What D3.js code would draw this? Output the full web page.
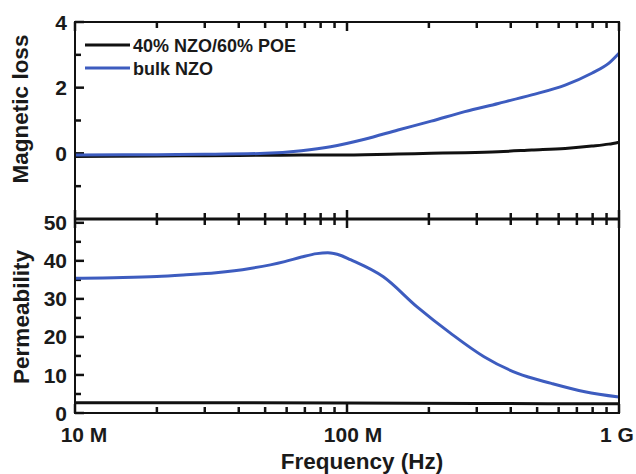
<!DOCTYPE html>
<html>
<head>
<meta charset="utf-8">
<script src="https://cdn.jsdelivr.net/npm/d3@7"></script>
<style>
body { margin: 0; background: #ffffff; }
text { font-family: "Liberation Sans", Arial, sans-serif; font-weight: bold; fill: #1a1a1a; }
</style>
</head>
<body>
<div id="canvas"></div>
<script>
// ----------------------------------------------------------
// DATA -----------------------------------------------------
// ----------------------------------------------------------
// frequency (Hz) for the magnetic loss curves
var freq_loss = [1e7, 2e7, 3e7, 5e7, 6.8e7, 8.7e7, 1.16e8, 1.54e8, 2.04e8, 2.71e8, 3.6e8, 4.78e8, 6.34e8, 7.94e8, 9.16e8, 1e9];
var loss_bulk = [-0.05, -0.04, -0.03, 0.0, 0.08, 0.20, 0.43, 0.71, 0.98, 1.27, 1.52, 1.78, 2.08, 2.44, 2.74, 3.05];
var loss_comp = [-0.1, -0.08, -0.07, -0.06, -0.05, -0.05, -0.04, -0.02, 0.0, 0.02, 0.05, 0.1, 0.15, 0.22, 0.28, 0.34];
// frequency (Hz) for the permeability curves
var freq_perm = [1e7, 1.5e7, 2e7, 2.5e7, 3.3e7, 4.4e7, 5.9e7, 6.8e7, 7.75e7, 8.5e7, 9.5e7, 1.03e8, 1.36e8, 1.81e8, 2.4e8, 3.19e8, 4.24e8, 5.64e8, 7.49e8, 1e9];
var perm_bulk = [35.4, 35.6, 35.9, 36.3, 36.9, 38.0, 39.8, 41.0, 41.9, 42.1, 41.4, 40.3, 35.8, 27.9, 21.0, 14.8, 10.4, 7.8, 5.6, 4.2];
var freq_perm_comp = [1e7, 3e7, 1e8, 3e8, 1e9];
var perm_comp = [2.7, 2.7, 2.6, 2.5, 2.4];
// series names
var series_names = ["40% NZO/60% POE", "bulk NZO"];
// ticks
var x_major_ticks = [1e7, 1e8, 1e9];
var x_tick_labels = ["10 M", "100 M", "1 G"];
var loss_major_ticks = [0, 2, 4];
var loss_minor_ticks = [-1, 1, 3];
var perm_major_ticks = [0, 10, 20, 30, 40, 50];
var perm_minor_ticks = [5, 15, 25, 35, 45];

// ----------------------------------------------------------
// SETTINGS -------------------------------------------------
// ----------------------------------------------------------
var width = 636, height = 474;
var plot_left = 75, plot_right = 619;
var top_y0 = 22, mid_y = 219, bot_y1 = 413;
var color_bulk = "#3d5cbf";
var color_comp = "#111111";
var tick_major = 9, tick_minor = 6;

var svg = d3.select("#canvas").append("svg")
  .attr("width", width)
  .attr("height", height)
  .style("background-color", "#ffffff");

// ----------------------------------------------------------
// SCALES ---------------------------------------------------
// ----------------------------------------------------------
var xScale = d3.scaleLog()
  .domain([1e7, 1e9])
  .range([plot_left, plot_right]);
var yLoss = d3.scaleLinear()
  .domain([-2, 4])
  .range([mid_y, top_y0]);
var yPerm = d3.scaleLinear()
  .domain([0, 51])
  .range([bot_y1, mid_y]);

// minor ticks on the log axis: 2..9 of every decade
var x_minor_ticks = [];
[1e7, 1e8].forEach(function(dec) {
  for (var k = 2; k < 10; k++) x_minor_ticks.push(dec * k);
});

// ----------------------------------------------------------
// TICKS ----------------------------------------------------
// ----------------------------------------------------------
var tick_group = svg.append("g").attr("class", "ticks");

function addTick(x1, y1, x2, y2) {
  tick_group.append("line")
    .attr("x1", x1).attr("y1", y1)
    .attr("x2", x2).attr("y2", y2)
    .style("stroke", "#111111")
    .style("stroke-width", "2.5px");
}

// horizontal edges: y position and inward direction (+1 down, -1 up)
var x_rows = [[top_y0, 1], [mid_y, -1], [mid_y, 1], [bot_y1, -1]];
x_rows.forEach(function(r) {
  x_major_ticks.forEach(function(d) {
    addTick(xScale(d), r[0], xScale(d), r[0] + r[1] * tick_major);
  });
  x_minor_ticks.forEach(function(d) {
    addTick(xScale(d), r[0], xScale(d), r[0] + r[1] * tick_minor);
  });
});

// left edge ticks
function leftTicks(scale, majors, minors) {
  majors.forEach(function(d) {
    addTick(plot_left, scale(d), plot_left + tick_major, scale(d));
  });
  minors.forEach(function(d) {
    addTick(plot_left, scale(d), plot_left + tick_minor, scale(d));
  });
}
leftTicks(yLoss, loss_major_ticks, loss_minor_ticks);
leftTicks(yPerm, perm_major_ticks, perm_minor_ticks);

// ----------------------------------------------------------
// TICK LABELS ----------------------------------------------
// ----------------------------------------------------------
var label_group = svg.append("g").style("font-size", "21px");

label_group.selectAll(null)
  .data(loss_major_ticks)
  .enter().append("text")
  .attr("x", plot_left - 8)
  .attr("y", function(d) { return yLoss(d); })
  .attr("dy", "0.36em")
  .attr("text-anchor", "end")
  .text(function(d) { return d; });

label_group.selectAll(null)
  .data(perm_major_ticks)
  .enter().append("text")
  .attr("x", plot_left - 8)
  .attr("y", function(d) { return yPerm(d); })
  .attr("dy", "0.36em")
  .attr("text-anchor", "end")
  .text(function(d) { return d; });

var x_label_shift = [9, 6, -2];
label_group.selectAll(null)
  .data(x_major_ticks)
  .enter().append("text")
  .attr("x", function(d, i) { return xScale(d) + x_label_shift[i]; })
  .attr("y", 442)
  .attr("text-anchor", "middle")
  .text(function(d, i) { return x_tick_labels[i]; });

// ----------------------------------------------------------
// LINES ----------------------------------------------------
// ----------------------------------------------------------
function drawLine(freqs, vals, yScale, color) {
  var pts = freqs.map(function(f, i) { return [f, vals[i]]; });
  var line = d3.line()
    .x(function(d) { return xScale(d[0]); })
    .y(function(d) { return yScale(d[1]); })
    .curve(d3.curveMonotoneX);
  svg.append("path")
    .datum(pts)
    .attr("d", line)
    .attr("fill", "none")
    .attr("stroke", color)
    .attr("stroke-width", 3)
    .attr("stroke-linejoin", "round");
}
drawLine(freq_loss, loss_comp, yLoss, color_comp);
drawLine(freq_loss, loss_bulk, yLoss, color_bulk);
drawLine(freq_perm_comp, perm_comp, yPerm, color_comp);
drawLine(freq_perm, perm_bulk, yPerm, color_bulk);

// ----------------------------------------------------------
// FRAME ----------------------------------------------------
// ----------------------------------------------------------
svg.append("rect")
  .attr("x", plot_left).attr("y", top_y0)
  .attr("width", plot_right - plot_left).attr("height", bot_y1 - top_y0)
  .attr("fill", "none").attr("stroke", "#111").attr("stroke-width", 2);
svg.append("line")
  .attr("x1", plot_left).attr("x2", plot_right)
  .attr("y1", mid_y).attr("y2", mid_y)
  .attr("stroke", "#111").attr("stroke-width", 3);

// ----------------------------------------------------------
// LEGEND ---------------------------------------------------
// ----------------------------------------------------------
var legend_colors = [color_comp, color_bulk];
var legend = svg.append("g");
series_names.forEach(function(name, i) {
  var ly = 45 + i * 23;
  legend.append("line")
    .attr("x1", 85).attr("x2", 130)
    .attr("y1", ly).attr("y2", ly)
    .attr("stroke", legend_colors[i]).attr("stroke-width", 3);
  legend.append("text")
    .attr("x", 133).attr("y", ly + 6.5)
    .style("font-size", "18px")
    .text(name);
});

// ----------------------------------------------------------
// TEXT -----------------------------------------------------
// ----------------------------------------------------------
svg.append("text")
  .attr("x", 362).attr("y", 469)
  .attr("text-anchor", "middle")
  .style("font-size", "22.5px")
  .text("Frequency (Hz)");
svg.append("text")
  .attr("transform", "translate(28,109) rotate(-90)")
  .attr("text-anchor", "middle")
  .style("font-size", "22.5px")
  .text("Magnetic loss");
svg.append("text")
  .attr("transform", "translate(29,317) rotate(-90)")
  .attr("text-anchor", "middle")
  .style("font-size", "22.5px")
  .text("Permeability");
</script>
</body>
</html>
